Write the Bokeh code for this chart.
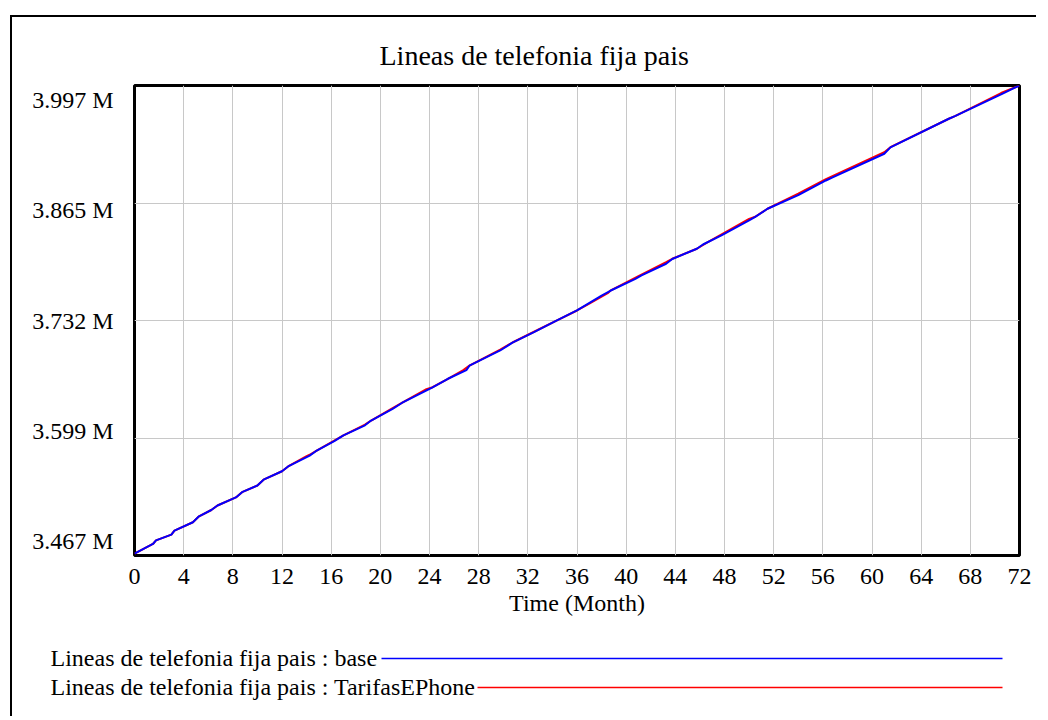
from bokeh.plotting import figure
from bokeh.models import Range1d, LinearAxis, FixedTicker
from bokeh.layouts import column
from bokeh.embed import file_html
from bokeh.resources import INLINE
from bokeh.core.properties import value

# ---------------- data ----------------
title_text = "Lineas de telefonia fija pais"
x_label = "Time (Month)"
series_names = ["Lineas de telefonia fija pais : base",
                "Lineas de telefonia fija pais : TarifasEPhone"]
series_colors = ["#0000ff", "#ff0000"]

x_ticks = list(range(0, 73, 4))
y_tick_values = [3.467e6, 3.5995e6, 3.732e6, 3.8645e6, 3.997e6]
y_tick_labels = ["3.467 M", "3.599 M", "3.732 M", "3.865 M", "3.997 M"]

# base run (months, millions of lines)
base_t = [0.0, 1.5, 1.75, 3.0, 3.25, 4.75, 5.25, 6.25, 6.75, 8.25, 8.75, 10.0,
          10.5, 12.0, 12.5, 14.25, 14.75, 16.25, 17.0, 18.75, 19.25, 21.0,
          21.75, 24.25, 25.5, 27.0, 27.25, 29.75, 30.75, 32.5, 34.25, 36.0,
          38.0, 38.75, 40.75, 41.25, 43.25, 43.75, 45.75, 46.25, 47.75, 50.0,
          50.5, 51.5, 54.0, 56.25, 56.75, 61.0, 61.5, 66.25, 66.75, 70.5, 72.0]
base_v = [3.4690, 3.4800, 3.4840, 3.4905, 3.4950, 3.5045, 3.5112, 3.5183,
          3.5234, 3.5325, 3.5384, 3.5459, 3.5525, 3.5620, 3.5674, 3.5796,
          3.5846, 3.5959, 3.6025, 3.6138, 3.6192, 3.6324, 3.6390, 3.6565,
          3.6663, 3.6760, 3.6810, 3.6982, 3.7070, 3.7188, 3.7312, 3.7433,
          3.7600, 3.7658, 3.7790, 3.7828, 3.7960, 3.8014, 3.8129, 3.8177,
          3.8280, 3.8448, 3.8488, 3.8580, 3.8733, 3.8899, 3.8932, 3.9200,
          3.9272, 3.9595, 3.9625, 3.9869, 3.9970]

# TarifasEPhone run
tarifas_t = [0.0, 1.5, 1.75, 3.0, 3.25, 4.75, 5.25, 6.25, 6.75, 8.25, 8.75,
             10.0, 10.5, 12.0, 12.5, 14.0, 14.25, 14.75, 16.25, 17.0, 18.75,
             19.25, 21.0, 21.75, 23.75, 24.25, 25.5, 26.75, 27.25, 29.75,
             30.75, 32.75, 34.25, 36.0, 37.0, 38.5, 38.75, 41.0, 43.25, 43.75,
             45.75, 46.5, 50.0, 50.5, 51.5, 54.0, 56.25, 61.0, 61.5, 66.25,
             66.75, 70.5, 72.0]
tarifas_v = [3.4690, 3.4800, 3.4840, 3.4905, 3.4950, 3.5045, 3.5112, 3.5183,
             3.5234, 3.5325, 3.5384, 3.5459, 3.5525, 3.5620, 3.5674, 3.5790,
             3.5806, 3.5846, 3.5966, 3.6025, 3.6145, 3.6192, 3.6332, 3.6390,
             3.6545, 3.6568, 3.6663, 3.6760, 3.6812, 3.6992, 3.7072, 3.7210,
             3.7314, 3.7433, 3.7510, 3.7628, 3.7660, 3.7820, 3.7978, 3.8016,
             3.8129, 3.8192, 3.8466, 3.8490, 3.8580, 3.8750, 3.8915, 3.9218,
             3.9274, 3.9595, 3.9625, 3.9885, 3.9970]

# ---------------- style ----------------
FONT = "Liberation Serif"
FRAME_W, FRAME_H = 885, 470
LABEL_SPAN = 441  # pixel span used by the y tick labels
MAIN_W = 122 + FRAME_W + 17
LEG_H = 98

p = figure(frame_width=FRAME_W, frame_height=FRAME_H,
           x_range=Range1d(0, 72),
           y_range=Range1d(y_tick_values[0], y_tick_values[-1]),
           y_axis_location=None,
           min_border_left=122, min_border_right=17,
           min_border_top=68, min_border_bottom=60,
           output_backend="svg", toolbar_location=None)
p.frame_align = False

# y labels are spread over a slightly shorter span than the grid (as in the source)
ymin, ymax = y_tick_values[0], y_tick_values[-1]
mid = (ymin + ymax) / 2
half = (ymax - ymin) / 2 * FRAME_H / LABEL_SPAN
p.extra_y_ranges = {"labels": Range1d(mid - half, mid + half)}
yax = LinearAxis(y_range_name="labels", ticker=FixedTicker(ticks=y_tick_values),
                 major_label_overrides={v: l for v, l in zip(y_tick_values, y_tick_labels)})
yax.axis_line_color = None
yax.major_tick_line_color = None
yax.minor_tick_line_color = None
yax.major_label_standoff = 15
yax.major_label_text_font = FONT
yax.major_label_text_font_size = "24px"
yax.major_label_text_color = "black"
p.add_layout(yax, "left")

xax = p.xaxis[0]
xax.ticker = FixedTicker(ticks=x_ticks)
xax.axis_line_color = None
xax.major_tick_line_color = None
xax.minor_tick_line_color = None
xax.major_label_standoff = 7
xax.major_label_text_font = FONT
xax.major_label_text_font_size = "24px"
xax.major_label_text_color = "black"
xax.axis_label = x_label
xax.axis_label_text_font = FONT
xax.axis_label_text_font_size = "24px"
xax.axis_label_text_font_style = "normal"
xax.axis_label_text_color = "black"
xax.axis_label_standoff = 3

p.xgrid.ticker = FixedTicker(ticks=x_ticks)
p.ygrid.ticker = FixedTicker(ticks=y_tick_values)
p.grid.grid_line_color = "#c8c8c8"
p.grid.grid_line_width = 1

p.outline_line_color = "black"
p.outline_line_width = 3

p.title.text = title_text
p.title.text_font = FONT
p.title.text_font_size = "28px"
p.title.text_font_style = "normal"
p.title.text_color = "black"
p.title.align = "left"
p.title.offset = 245
p.title.standoff = 30

p.line(tarifas_t, [v * 1e6 for v in tarifas_v],
       line_color=series_colors[1], line_width=2)
p.line(base_t, [v * 1e6 for v in base_v],
       line_color=series_colors[0], line_width=2)

# ---------------- legend panel ----------------
leg = figure(width=MAIN_W, height=LEG_H, x_range=Range1d(0, MAIN_W), y_range=Range1d(LEG_H, 0),
             x_axis_location=None, y_axis_location=None, min_border=0,
             output_backend="svg", toolbar_location=None)
leg.frame_align = False
leg.outline_line_color = None
leg.grid.visible = False
leg.text(x=[38, 38], y=[39, 68], text=series_names,
         text_font=value(FONT), text_font_size="24px",
         text_baseline="alphabetic", text_color="black")
leg.segment(x0=[369, 465], y0=[40, 69], x1=[990, 990], y1=[40, 69],
            line_color=series_colors, line_width=1.5)

# outer frame: only its left and top edges fall inside the window
layout = column(p, leg, margin=(15, 0, 0, 10),
                styles={"border-left": "2px solid black",
                        "border-top": "2px solid black"})

open("out.html", "w").write(file_html(layout, INLINE))
